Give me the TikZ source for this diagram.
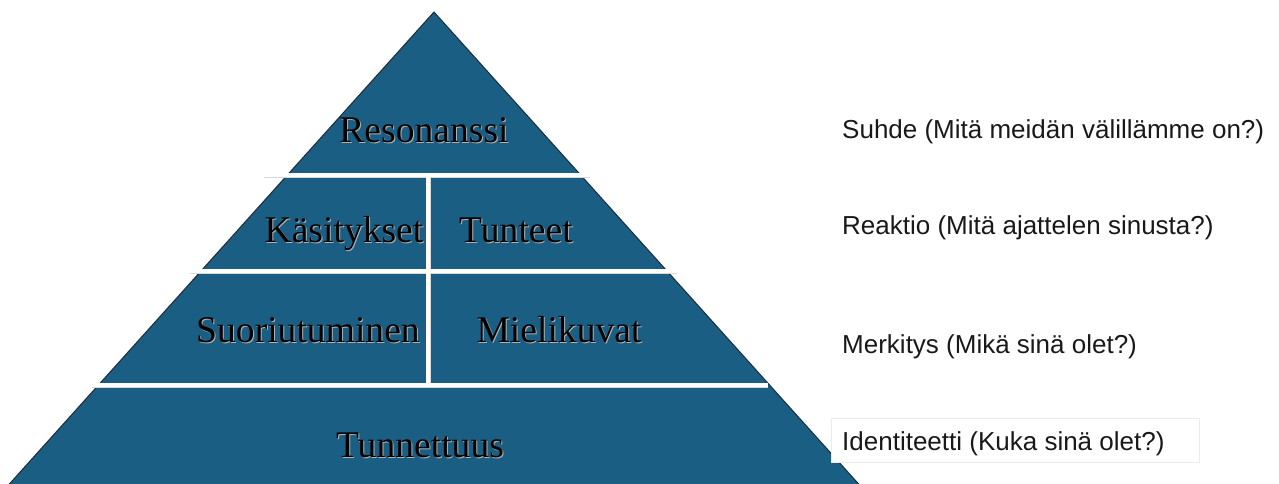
\documentclass[tikz,border=0pt]{standalone}
\usepackage{fontspec}
\setmainfont{Liberation Serif}
\newfontfamily\rsans{Liberation Sans}
\definecolor{pyrblue}{HTML}{1A5F83}
\definecolor{edgedark}{HTML}{1C2B38}
\definecolor{sepgray}{HTML}{D8D8D8}
\tikzset{
  layertext/.style={anchor=base, inner sep=0pt, text=black, font=\fontsize{37.6}{40}\selectfont},
  shadowtext/.style={anchor=base, inner sep=0pt, text=black!30, font=\fontsize{37.6}{40}\selectfont},
  sidetext/.style={anchor=base west, inner sep=0pt, text=black!90, font=\rsans\fontsize{26}{30}\selectfont},
  sepunder/.style={draw=sepgray, line width=5pt},
  sepover/.style={draw=white, line width=3.2pt},
}
\begin{document}
\begin{tikzpicture}[x=1pt,y=-1pt]
\useasboundingbox (0,0) rectangle (1279,483);
\clip (0,0) rectangle (1279,483);
% pyramid
\fill[pyrblue, draw=edgedark, line width=1pt] (434,12) -- (873,500) -- (-5,500) -- cycle;
% separators
\draw[sepunder] (264,175) -- (590,175);
\draw[sepunder] (190,271) -- (677,271);
\draw[sepunder] (92,385) -- (768,385);
\draw[sepunder] (428,175) -- (428,385);
\draw[sepover] (264,175) -- (590,175);
\draw[sepover] (190,271) -- (677,271);
\draw[sepover] (92,385) -- (768,385);
\draw[sepover] (428,175) -- (428,385);
% shadows
\node[shadowtext] at (425,143) {Resonanssi};
\node[shadowtext] at (345,243) {Käsitykset};
\node[shadowtext] at (517,243) {Tunteet};
\node[shadowtext] at (309,343) {Suoriutuminen};
\node[shadowtext] at (560,343) {Mielikuvat};
\node[shadowtext] at (421,458) {Tunnettuus};
% layer labels
\node[layertext] (reso) at (424,142) {Resonanssi};
\node[layertext] (kasi) at (344,242) {Käsitykset};
\node[layertext] (tunt) at (516,242) {Tunteet};
\node[layertext] (suor) at (308,342) {Suoriutuminen};
\node[layertext] (miel) at (559,342) {Mielikuvat};
\node[layertext] (tunn) at (420,457) {Tunnettuus};
% side labels
\node[sidetext] (suhde) at (842,138) {Suhde (Mitä meidän välillämme on?)};
\node[sidetext] (reak) at (842,234) {Reaktio (Mitä ajattelen sinusta?)};
\node[sidetext] (merk) at (842,353) {Merkitys (Mikä sinä olet?)};
\fill[white, draw=black!8, line width=0.8pt] (831,418) rectangle (1199,462);
\node[sidetext] (iden) at (842,450) {Identiteetti (Kuka sinä olet?)};
\end{tikzpicture}
\end{document}
